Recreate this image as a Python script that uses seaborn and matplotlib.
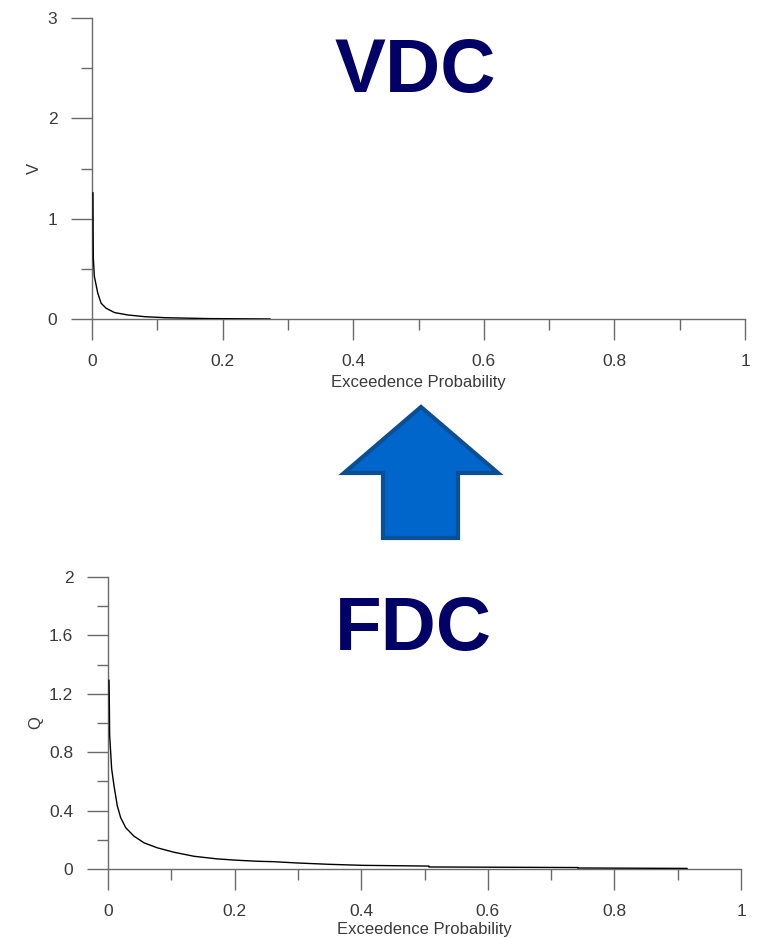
import matplotlib
matplotlib.use("Agg")
import matplotlib.pyplot as plt
from matplotlib.ticker import MultipleLocator
from matplotlib.patches import Polygon
import seaborn as sns
import pandas as pd

# ---- data ----
vdc_prob = [0.0015, 0.0017, 0.002, 0.0036, 0.0088, 0.014, 0.0216, 0.0345, 0.055,
            0.081, 0.112, 0.179, 0.273]
vdc_value = [1.26, 0.9, 0.61, 0.425, 0.258, 0.157, 0.107, 0.064, 0.04,
             0.023, 0.013, 0.004, 0.0]

fdc_prob = [0.0016, 0.0022, 0.0026, 0.0058, 0.0095, 0.0147, 0.02, 0.028, 0.041, 0.057,
            0.078, 0.104, 0.136, 0.173, 0.204, 0.236, 0.262, 0.30, 0.35, 0.403,
            0.507, 0.507, 0.742, 0.742, 0.915]
fdc_value = [1.294, 1.1, 0.915, 0.685, 0.57, 0.432, 0.352, 0.283, 0.225, 0.179,
             0.145, 0.115, 0.087, 0.069, 0.06, 0.053, 0.05, 0.041, 0.032, 0.025,
             0.02, 0.014, 0.01, 0.007, 0.004]

x_ticks = [0, 0.2, 0.4, 0.6, 0.8, 1]
x_ticklabels = ["0", "0.2", "0.4", "0.6", "0.8", "1"]
vdc_yticks = [0, 1, 2, 3]
vdc_yticklabels = ["0", "1", "2", "3"]
fdc_yticks = [0, 0.4, 0.8, 1.2, 1.6, 2]
fdc_yticklabels = ["0", "0.4", "0.8", "1.2", "1.6", "2"]

xlabel = "Exceedence Probability"

sns.set_theme(style="white")
plt.rcParams["font.family"] = ["Liberation Sans", "DejaVu Sans"]

W, H = 758, 938
fig = plt.figure(figsize=(W / 100, H / 100), dpi=100)

tick_col = "#6a6a6a"
lab_col = "#3a3a3a"


def fr(x0, y0, x1, y1):
    return [x0 / W, 1 - y1 / H, (x1 - x0) / W, (y1 - y0) / H]


def style_axis(ax, yticks, yticklabels, ymax, yminor, ylabel, xlabelpad):
    ax.set_xlim(0, 1)
    ax.set_ylim(0, ymax)
    ax.set_xticks(x_ticks)
    ax.set_xticklabels(x_ticklabels)
    ax.set_yticks(yticks)
    ax.set_yticklabels(yticklabels)
    ax.xaxis.set_minor_locator(MultipleLocator(0.1))
    ax.yaxis.set_minor_locator(MultipleLocator(yminor))
    for s in ["top", "right"]:
        ax.spines[s].set_visible(False)
    for s in ["left", "bottom"]:
        ax.spines[s].set_color(tick_col)
        ax.spines[s].set_linewidth(1.0)
    ax.tick_params(which="major", direction="out", length=15, width=1.0,
                   color=tick_col, labelcolor=lab_col, labelsize=12.5)
    ax.tick_params(which="minor", direction="out", length=8, width=1.0,
                   color=tick_col)
    ax.tick_params(axis="x", which="major", pad=10)
    ax.tick_params(axis="y", which="major", pad=10)
    ax.tick_params(which="both", bottom=True, left=True)
    ax.set_xlabel(xlabel, fontsize=12, color=lab_col, labelpad=xlabelpad)
    ax.set_ylabel(ylabel, fontsize=12, color=lab_col, labelpad=4)
    ax.set_facecolor("white")
    ax.grid(False)


# top: VDC
ax1 = fig.add_axes(fr(92, 18, 745, 319))
df1 = pd.DataFrame({"p": vdc_prob, "v": vdc_value})
sns.lineplot(data=df1, x="p", y="v", ax=ax1, color="black", linewidth=1.0,
             estimator=None, sort=False, zorder=3)
style_axis(ax1, vdc_yticks, vdc_yticklabels, 3, 0.5, "V", 4.5)

# bottom: FDC
ax2 = fig.add_axes(fr(108, 577, 741, 869))
df2 = pd.DataFrame({"p": fdc_prob, "q": fdc_value})
sns.lineplot(data=df2, x="p", y="q", ax=ax2, color="black", linewidth=1.0,
             estimator=None, sort=False, zorder=3)
style_axis(ax2, fdc_yticks, fdc_yticklabels, 2, 0.2, "Q", 2.5)

# titles
fig.text(415 / W, 1 - 92 / H, "VDC", fontsize=55, fontweight="bold",
         color="#000066", ha="center", va="baseline")
fig.text(413 / W, 1 - 650 / H, "FDC", fontsize=55, fontweight="bold",
         color="#000066", ha="center", va="baseline")

# arrow
arrow_px = [(421, 407), (498, 473), (458, 473), (458, 538),
            (383, 538), (383, 473), (344, 473)]
arrow = Polygon([(x / W, 1 - y / H) for x, y in arrow_px], closed=True,
                transform=fig.transFigure, facecolor="#0066cc",
                edgecolor="#0a4f94", linewidth=3, joinstyle="miter")
fig.patches.append(arrow)

fig.savefig("out.png", dpi=100, facecolor="white")
